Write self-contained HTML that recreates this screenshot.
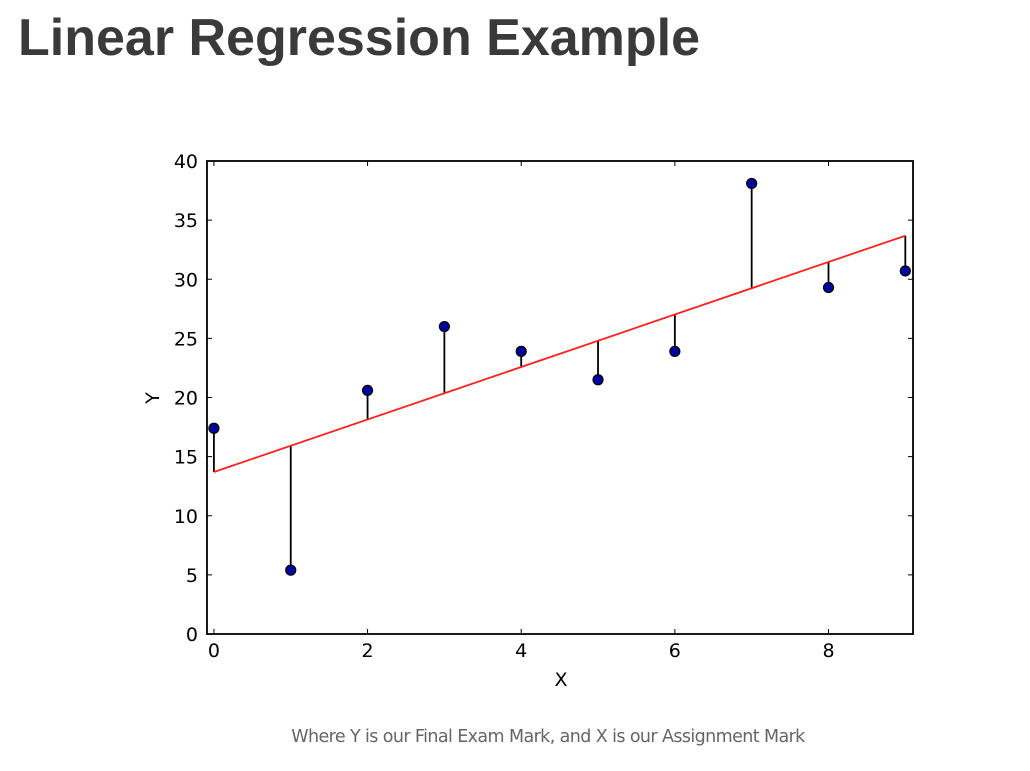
<!DOCTYPE html>
<html><head><meta charset="utf-8"><style>
body{margin:0;background:#fff;width:1030px;height:771px;overflow:hidden;font-family:"Liberation Sans",sans-serif}
#title{position:absolute;left:18px;top:8px;font-size:52px;font-weight:bold;color:#3a3a3a;margin:0}
#cap{position:absolute;left:0;width:1096px;text-align:center;top:727px;font-size:17.5px;color:#666;font-family:"DejaVu Sans",sans-serif;letter-spacing:-0.6px}
svg{position:absolute;left:0;top:0}
</style></head><body>
<h1 id="title">Linear Regression Example</h1>
<svg id="chart" width="1030" height="771"></svg>
<div id="cap">Where Y is our Final Exam Mark, and X is our Assignment Mark</div>
<script>
const xs=[0,1,2,3,4,5,6,7,8,9];
const ys=[17.4,5.4,20.6,26.0,23.9,21.5,23.9,38.1,29.3,30.7];
const fitIntercept=13.7, fitSlope=2.22;
const xTicks=[0,2,4,6,8];
const yTicks=[0,5,10,15,20,25,30,35,40];
const L=207,R=913,T=161,B=634,xmin=-0.09,xmax=9.1,ymin=0,ymax=40;
const sx=v=>L+(v-xmin)/(xmax-xmin)*(R-L);
const sy=v=>B-(v-ymin)/(ymax-ymin)*(B-T);
const svg=document.getElementById('chart');const NS='http://www.w3.org/2000/svg';
function mk(t,a,p){const e=document.createElementNS(NS,t);for(const k in a)e.setAttribute(k,a[k]);(p||svg).appendChild(e);return e;}
let e;
e=mk('rect',{x:L,y:T,width:R-L,height:B-T,fill:'#fff',stroke:'#000','stroke-width':1.8});

yTicks.forEach(v=>{const y=sy(v);
mk('line',{x1:L,x2:L+5,y1:y,y2:y,stroke:'#000'});mk('line',{x1:R,x2:R-5,y1:y,y2:y,stroke:'#000'});
e=mk('text',{x:L-9,y:y+7,'text-anchor':'end','font-size':19,fill:'#000','font-family':'DejaVu Sans, sans-serif'});e.textContent=v;
});
xTicks.forEach(v=>{const x=sx(v);
mk('line',{x1:x,x2:x,y1:B,y2:B-5,stroke:'#000'});mk('line',{x1:x,x2:x,y1:T,y2:T+5,stroke:'#000'});
e=mk('text',{x:x,y:B+23,'text-anchor':'middle','font-size':19,fill:'#000','font-family':'DejaVu Sans, sans-serif'});e.textContent=v;
});
e=mk('text',{x:561,y:686,'text-anchor':'middle','font-size':19,'font-family':'DejaVu Sans, sans-serif'});e.textContent='X';

e=mk('text',{x:0,y:0,'text-anchor':'middle','font-size':19,'font-family':'DejaVu Sans, sans-serif',transform:'translate(159,398) rotate(-90)'});e.textContent='Y';

xs.forEach((x,i)=>{const f=fitIntercept+fitSlope*x;
e=mk('line',{x1:sx(x),x2:sx(x),y1:sy(ys[i]),y2:sy(f),stroke:'#000','stroke-width':1.8});
});
e=mk('line',{x1:sx(0),y1:sy(fitIntercept),x2:sx(9),y2:sy(fitIntercept+fitSlope*9),stroke:'#ff2020','stroke-width':1.8});

xs.forEach((x,i)=>{e=mk('circle',{cx:sx(x),cy:sy(ys[i]),r:5,fill:'#0000a0',stroke:'#000','stroke-width':1.2});
});
</script>
</body></html>
